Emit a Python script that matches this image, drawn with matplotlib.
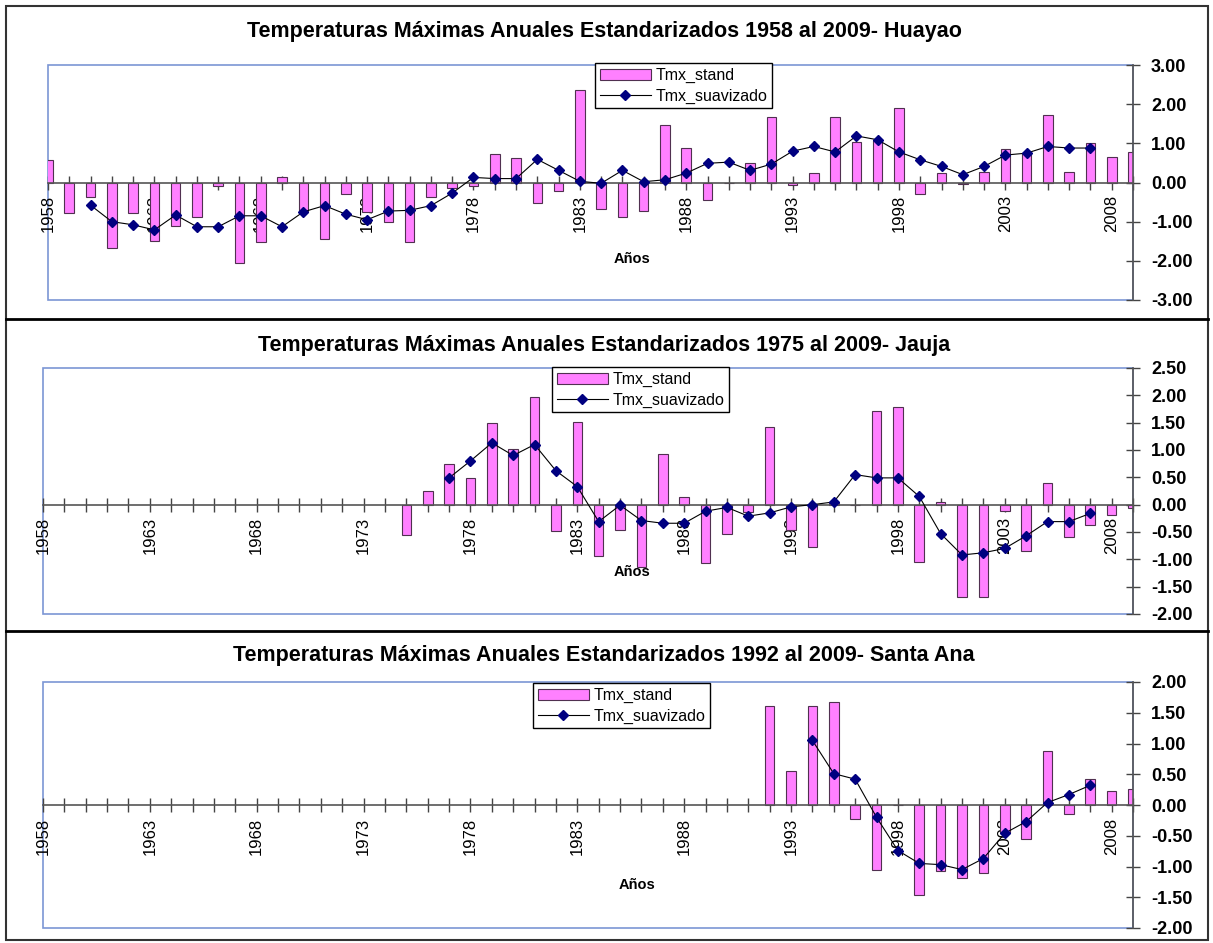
import numpy as np
import matplotlib
matplotlib.use('Agg')
import matplotlib.pyplot as plt
from matplotlib.patches import Rectangle
from matplotlib.lines import Line2D

plt.rcParams['font.family'] = ['Liberation Sans', 'DejaVu Sans']

years = list(range(1958, 2010))
label_years = list(range(1958, 2010, 5))

# Huayao 1958-2009
huayao_stand = [0.58, -0.77, -0.38, -1.68, -0.77, -1.50, -1.10, -0.89, -0.10, -2.06,
                -1.51, 0.15, -0.75, -1.44, -0.30, -0.75, -1.00, -1.51, -0.38, -0.15,
                -0.10, 0.74, 0.63, -0.53, -0.21, 2.35, -0.68, -0.87, -0.72, 1.46,
                0.88, -0.44, -0.01, 0.49, 1.66, -0.07, 0.25, 1.67, 1.04, 1.08,
                1.90, -0.30, 0.23, -0.05, 0.28, 0.85, 0.76, 1.72, 0.28, 1.01,
                0.65, 0.79]
huayao_suav = [None, None, -0.58, -1.00, -1.08, -1.21, -0.83, -1.13, -1.13, -0.85,
               -0.85, -1.13, -0.75, -0.59, -0.81, -0.95, -0.73, -0.71, -0.59, -0.27,
               0.13, 0.10, 0.10, 0.59, 0.31, 0.03, -0.02, 0.31, 0.02, 0.07,
               0.24, 0.49, 0.52, 0.31, 0.47, 0.80, 0.92, 0.78, 1.19, 1.09,
               0.78, 0.58, 0.41, 0.20, 0.41, 0.70, 0.75, 0.92, 0.88, 0.88,
               None, None]

# Jauja 1975-2009
jauja_stand = [None] * 17 + [-0.55, 0.25, 0.75, 0.49, 1.49, 1.02, 1.97, -0.49, 1.52, -0.93,
                             -0.46, -1.14, 0.93, 0.14, -1.07, -0.54, -0.14, 1.42, -0.47, -0.77,
                             0.03, 0.00, 1.72, 1.78, -1.04, 0.05, -1.69, -1.69, -0.12, -0.84,
                             0.39, -0.59, -0.37, -0.19, -0.06]
jauja_suav = [None] * 19 + [0.49, 0.80, 1.13, 0.90, 1.10, 0.62, 0.33, -0.31, -0.01, -0.29,
                            -0.34, -0.34, -0.12, -0.05, -0.21, -0.15, -0.04, 0.00, 0.05, 0.55,
                            0.49, 0.49, 0.15, -0.53, -0.92, -0.88, -0.80, -0.57, -0.31, -0.31,
                            -0.16] + [None, None]

# Santa Ana 1992-2009
santa_stand = [None] * 34 + [1.61, 0.56, 1.61, 1.67, -0.23, -1.05, 0.00, -1.46, -1.08, -1.18,
                             -1.11, -0.45, -0.56, 0.88, -0.15, 0.42, 0.23, 0.26]
santa_suav = [None] * 36 + [1.05, 0.51, 0.42, -0.20, -0.74, -0.95, -0.97, -1.05, -0.87, -0.46,
                            -0.27, 0.04, 0.17, 0.32] + [None, None]

W, H = 1213, 943


def fx(px):
    return px / W


def fy(py):
    return 1 - py / H


def panel(fig, rect, stand, suav, ylim, ystep, title, title_y, leg_xy, anos_xy):
    ax = fig.add_axes(rect)
    st = np.array([np.nan if v is None else v for v in stand], dtype=float)
    sv = np.array([np.nan if v is None else v for v in suav], dtype=float)
    yr = np.array(years)
    ok = ~np.isnan(st)
    bars = ax.bar(yr[ok], st[ok], width=0.45, color='#ff80ff', edgecolor='#503050',
                  linewidth=0.8, label='Tmx_stand', zorder=2)
    line, = ax.plot(yr, sv, color='black', lw=0.8, marker='D', markersize=5,
                    markerfacecolor='#000080', markeredgecolor='#000080',
                    label='Tmx_suavizado', zorder=3)

    # spine first, it resets the tick objects
    ax.spines['left'].set_visible(False)
    ax.spines['top'].set_visible(False)
    ax.spines['bottom'].set_position(('data', 0))
    ax.spines['bottom'].set_color('#555555')
    ax.spines['bottom'].set_linewidth(1.2)
    ax.spines['right'].set_color('#555555')
    ax.spines['right'].set_linewidth(1.2)

    ax.set_xlim(1958, 2009)
    ax.set_ylim(*ylim)
    ax.set_xticks(years)
    ax.set_xticklabels([str(y) if y in label_years else '' for y in years], fontsize=12)
    ax.set_yticks(np.arange(ylim[0], ylim[1] + 0.001, ystep))
    ax.yaxis.set_major_formatter(matplotlib.ticker.FormatStrFormatter('%.2f'))
    ax.yaxis.tick_right()
    ax.tick_params(axis='x', direction='inout', length=10, color='#444444',
                   width=1, pad=4, labelrotation=90)
    ax.tick_params(axis='y', direction='inout', length=10, color='#444444',
                   width=1, pad=8, labelsize=13)
    for t in ax.get_yticklabels():
        t.set_fontweight('bold')

    ax.add_patch(Rectangle((0, 0), 1, 1, transform=ax.transAxes, fill=False,
                           edgecolor='#7b96d4', lw=1.2, clip_on=False, zorder=0))

    fig.text(fx(604), fy(title_y), title, ha='center', va='center',
             fontsize=15.5, fontweight='bold')
    fig.text(fx(anos_xy[0]), fy(anos_xy[1]), 'Años', ha='center', va='center',
             fontsize=10.5, fontweight='bold')
    leg = ax.legend([bars, line], ['Tmx_stand', 'Tmx_suavizado'],
                    loc='upper left', bbox_to_anchor=(fx(leg_xy[0]), fy(leg_xy[1])),
                    bbox_transform=fig.transFigure, fancybox=False, framealpha=1,
                    edgecolor='black', fontsize=11.5, handlelength=3.2,
                    borderpad=0.3, labelspacing=0.35, handletextpad=0.3,
                    borderaxespad=0)
    leg.get_frame().set_linewidth(1.0)
    return ax


fig = plt.figure(figsize=(W / 100, H / 100), dpi=100)
fig.patch.set_facecolor('white')

panel(fig, [fx(48), fy(300), fx(1133 - 48), (300 - 65) / H],
      huayao_stand, huayao_suav, (-3, 3), 1.0,
      'Temperaturas Máximas Anuales Estandarizados 1958 al 2009- Huayao', 31,
      (595, 63), (632, 259))
panel(fig, [fx(43), fy(614), fx(1133 - 43), (614 - 368) / H],
      jauja_stand, jauja_suav, (-2, 2.5), 0.5,
      'Temperaturas Máximas Anuales Estandarizados 1975 al 2009- Jauja', 345,
      (552, 367), (632, 572))
panel(fig, [fx(43), fy(928), fx(1133 - 43), (928 - 682) / H],
      santa_stand, santa_suav, (-2, 2), 0.5,
      'Temperaturas Máximas Anuales Estandarizados 1992 al 2009- Santa Ana', 655,
      (533, 683), (637, 885))

# outer frame and separators
fig.add_artist(Rectangle((fx(6), fy(940)), fx(1208 - 6), (940 - 6) / H,
                         transform=fig.transFigure, fill=False,
                         edgecolor='#333333', lw=1.5))
for yy in [319, 631]:
    fig.add_artist(Line2D([fx(6), fx(1208)], [fy(yy), fy(yy)],
                          transform=fig.transFigure, color='black', lw=2))

plt.savefig('out.png', dpi=100)
print('out.png')
